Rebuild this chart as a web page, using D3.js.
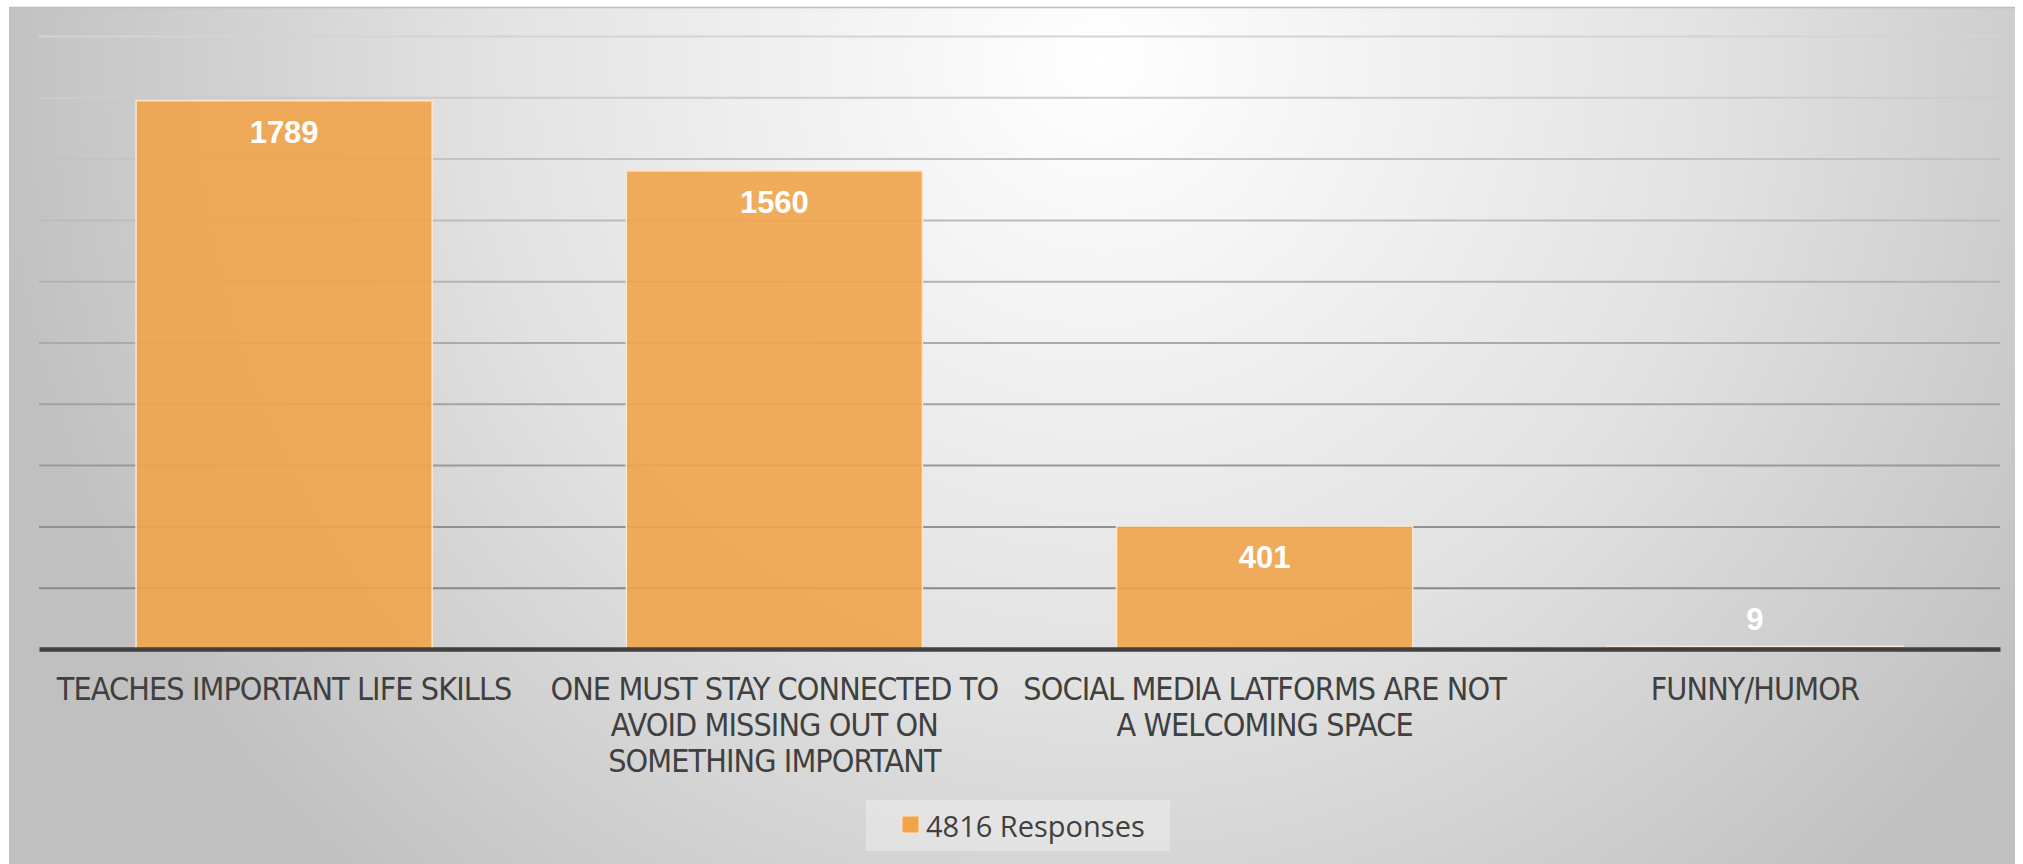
<!DOCTYPE html>
<html>
<head>
<meta charset="utf-8">
<script src="https://cdn.jsdelivr.net/npm/d3@7"></script>
<style>
  html, body { margin: 0; padding: 0; background: #ffffff; }
  svg { display: block; }
</style>
</head>
<body>
<svg id="chart" width="2023" height="864"></svg>
<script>
// ---- data ----
const categories = [
  "TEACHES IMPORTANT LIFE SKILLS",
  "ONE MUST STAY CONNECTED TO AVOID MISSING OUT ON SOMETHING IMPORTANT",
  "SOCIAL MEDIA LATFORMS ARE NOT A WELCOMING SPACE",
  "FUNNY/HUMOR"
];
const categoryLines = [
  ["TEACHES IMPORTANT LIFE SKILLS"],
  ["ONE MUST STAY CONNECTED TO", "AVOID MISSING OUT ON", "SOMETHING IMPORTANT"],
  ["SOCIAL MEDIA LATFORMS ARE NOT", "A WELCOMING SPACE"],
  ["FUNNY/HUMOR"]
];
const values = [1789, 1560, 401, 9];
const seriesName = "4816 Responses";
const yTicks = [0, 200, 400, 600, 800, 1000, 1200, 1400, 1600, 1800, 2000];

// ---- layout ----
const W = 2023, H = 864;
const plot = { left: 39, right: 2000, top: 36, bottom: 649 };
const barColor = "#F1A44A";
const labelFont = "'Liberation Sans Narrow', 'Arial Narrow', 'DejaVu Sans Condensed', 'Liberation Sans', sans-serif";

const svg = d3.select("#chart");
const defs = svg.append("defs");

const bg = defs.append("radialGradient")
  .attr("id", "bgGrad").attr("gradientUnits", "userSpaceOnUse")
  .attr("cx", 1100).attr("cy", 60).attr("r", 1120);
bg.append("stop").attr("offset", 0).attr("stop-color", "#ffffff");
bg.append("stop").attr("offset", 0.55).attr("stop-color", "#e2e2e2");
bg.append("stop").attr("offset", 1).attr("stop-color", "#c0c0c0");

// background frame
svg.append("rect")
  .attr("x", 9).attr("y", 7).attr("width", 2006).attr("height", H - 7)
  .attr("fill", "url(#bgGrad)");
svg.append("line")
  .attr("x1", 9).attr("x2", 2015).attr("y1", 7.5).attr("y2", 7.5)
  .attr("stroke", "#bdbdbd").attr("stroke-width", 1.5);

// scales
const x = d3.scaleBand().domain(categories)
  .range([plot.left, plot.right])
  .paddingInner(0.396).paddingOuter(0.198);
const y = d3.scaleLinear().domain([0, 2000]).range([plot.bottom, plot.top]);

// gridlines
const grid = svg.append("g")
  .attr("transform", `translate(${plot.left},0)`)
  .call(d3.axisLeft(y).tickValues(yTicks.filter(t => t > 0))
    .tickSize(-(plot.right - plot.left)).tickFormat(""));
grid.select(".domain").remove();
grid.selectAll(".tick line")
  .attr("stroke", d => d3.interpolateRgb("#d4d4d4", "#808080")(1 - d / 2000))
  .attr("stroke-width", 2);

// bars
svg.append("g").selectAll("rect")
  .data(values)
  .join("rect")
  .attr("x", (d, i) => x(categories[i]))
  .attr("y", d => y(d))
  .attr("width", x.bandwidth())
  .attr("height", d => y(0) - y(d))
  .attr("fill", barColor)
  .attr("fill-opacity", 0.9)
  .attr("stroke", "#fde6cb")
  .attr("stroke-width", 1.5);

// baseline axis
const xAxis = svg.append("g")
  .attr("transform", `translate(0,${y(0)})`)
  .call(d3.axisBottom(x).tickSize(0).tickFormat(""));
xAxis.select(".domain").attr("stroke", "#404040").attr("stroke-width", 4.5);

// value labels
svg.append("g").selectAll("text")
  .data(values)
  .join("text")
  .attr("x", (d, i) => x(categories[i]) + x.bandwidth() / 2)
  .attr("y", d => (y(0) - y(d) > 50) ? y(d) + 42 : y(d) - 16)
  .attr("text-anchor", "middle")
  .attr("font-family", "'Liberation Sans', Arial, sans-serif")
  .attr("font-weight", "bold")
  .attr("font-size", 31)
  .attr("fill", "#ffffff")
  .text(d => d);

// category labels
const catG = svg.append("g");
categories.forEach((c, i) => {
  const t = catG.append("text")
    .attr("x", x(c) + x.bandwidth() / 2)
    .attr("y", 700)
    .attr("text-anchor", "middle")
    .attr("font-family", labelFont)
    .attr("font-size", 32)
    .attr("letter-spacing", -0.9)
    .attr("fill", "#404040");
  categoryLines[i].forEach((ln, j) => {
    t.append("tspan")
      .attr("x", x(c) + x.bandwidth() / 2)
      .attr("dy", j === 0 ? 0 : 36)
      .text(ln);
  });
});

// legend
const lg = svg.append("g");
lg.append("rect")
  .attr("x", 866).attr("y", 800).attr("width", 304).attr("height", 51)
  .attr("fill", "#ffffff").attr("fill-opacity", 0.3);
lg.append("rect")
  .attr("x", 902).attr("y", 816).attr("width", 17).attr("height", 17)
  .attr("fill", barColor).attr("stroke", "#fde6cb").attr("stroke-width", 1);
lg.append("text")
  .attr("x", 926).attr("y", 837)
  .attr("font-family", "'Open Sans', 'Noto Sans', sans-serif")
  .attr("font-size", 29)
  .attr("fill", "#404040")
  .text(seriesName);
</script>
</body>
</html>
